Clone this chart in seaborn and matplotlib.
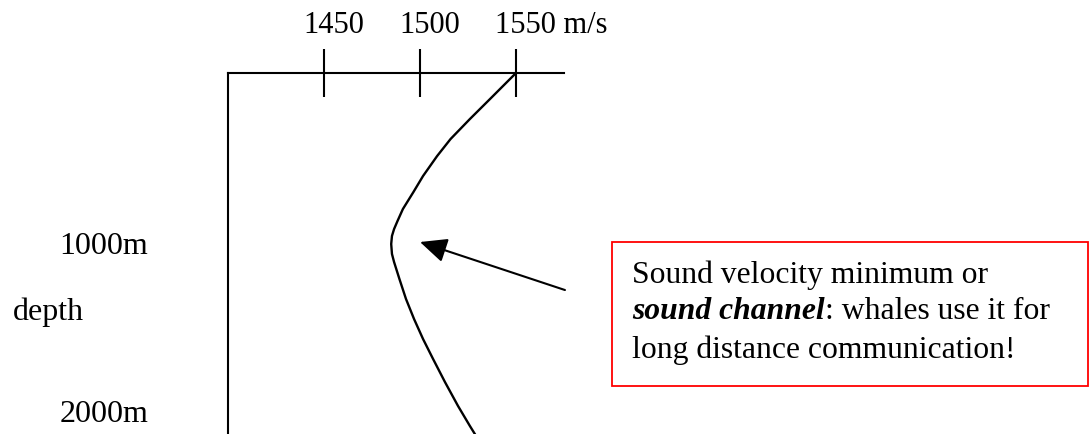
import matplotlib
matplotlib.use("Agg")
import matplotlib.pyplot as plt
import matplotlib.transforms as mtransforms
from matplotlib.patches import Rectangle
from matplotlib.text import Annotation
import seaborn as sns
import pandas as pd

# sound velocity profile (m/s vs depth in m)
speed = [1550.0, 1536.5, 1526.0, 1515.9, 1508.9, 1501.6, 1496.6, 1491.1, 1488.3, 1486.5,
         1485.4, 1485.0, 1485.4, 1486.5, 1489.3, 1492.7, 1496.9, 1501.6, 1506.8, 1513.0,
         1519.8, 1526.0, 1529.2]
depth = [0, 154, 273, 392, 493, 611, 706, 807, 878, 926,
         967, 1015, 1074, 1122, 1223, 1341, 1460, 1579, 1697, 1834,
         1976, 2095, 2154]

speed_ticks = [1450, 1500, 1550]
speed_labels = ['1450', '1500', '1550 m/s']
depth_ticks = [1000, 2000]
depth_labels = ['1000m', '2000m']

minimum_point = (1500, 1003)      # where the arrow points
arrow_tail = (1575.5, 1288)

sns.set_style('white')
plt.rcParams['font.family'] = ['Liberation Serif', 'DejaVu Serif']
plt.rcParams['text.color'] = 'black'
plt.rcParams['font.size'] = 22

df = pd.DataFrame({'speed': speed, 'depth': depth})

fig = plt.figure(figsize=(10.9, 4.35), dpi=100)
W, H = 1090, 435
ax = fig.add_axes([228 / W, 0, (564 - 228) / W, (435 - 74) / H])

sns.lineplot(data=df, x='speed', y='depth', sort=False, estimator=None,
             color='black', linewidth=1.7, ax=ax, clip_on=False)
ax.lines[0].set_solid_joinstyle('round')

ax.set_xlim(1400, 1575)
ax.set_ylim(2142.4, 0)

for side in ['right', 'bottom']:
    ax.spines[side].set_visible(False)
for side in ['top', 'left']:
    ax.spines[side].set_color('black')
    ax.spines[side].set_linewidth(1.5)

ax.xaxis.tick_top()
ax.set_xticks(speed_ticks)
ax.set_xticklabels(speed_labels, fontsize=22)
ax.set_yticks(depth_ticks)
ax.set_yticklabels(depth_labels, fontsize=23)
ax.tick_params(axis='x', direction='inout', length=35, width=1.5, pad=7,
               colors='black', labelcolor='black')
ax.tick_params(axis='y', direction='inout', length=35, width=1.5, pad=40,
               colors='black', labelcolor='black')

# top labels start a little left of their tick
shift = mtransforms.ScaledTranslation(-0.21, 0, fig.dpi_scale_trans)
for lab in ax.get_xticklabels():
    lab.set_ha('left')
    lab.set_transform(lab.get_transform() + shift)

ax.set_xlabel('')
ax.set_ylabel('')
ax.text(1288, 1412, 'depth', ha='left', va='center', fontsize=23, color='black')

ax.annotate('', xy=minimum_point, xytext=arrow_tail, annotation_clip=False,
            arrowprops=dict(arrowstyle='-|>,head_length=0.55,head_width=0.25',
                            mutation_scale=30, color='black', lw=1.5,
                            shrinkA=0, shrinkB=0))

# red callout box
fig.add_artist(Rectangle((612 / W, 1 - 387 / H), (1088 - 612) / W, (387 - 243) / H,
                         transform=fig.transFigure, fill=False,
                         edgecolor='#ff0000', linewidth=1.3))
tx = 632 / W
fs = 22.8
fig.text(tx, 1 - 283 / H, 'Sound velocity minimum or', va='baseline', fontsize=fs, color='black')
t1 = fig.text(tx, 1 - 319 / H, 'sound channel', va='baseline', fontsize=fs,
              fontweight='bold', fontstyle='italic', color='black')
fig.add_artist(Annotation(': whales use it for', xy=(1, 0), xycoords=t1,
                          va='bottom', ha='left', fontsize=fs, color='black'))
fig.text(tx, 1 - 358 / H, 'long distance communication!', va='baseline', fontsize=fs, color='black')

fig.savefig('out.png', dpi=100)
